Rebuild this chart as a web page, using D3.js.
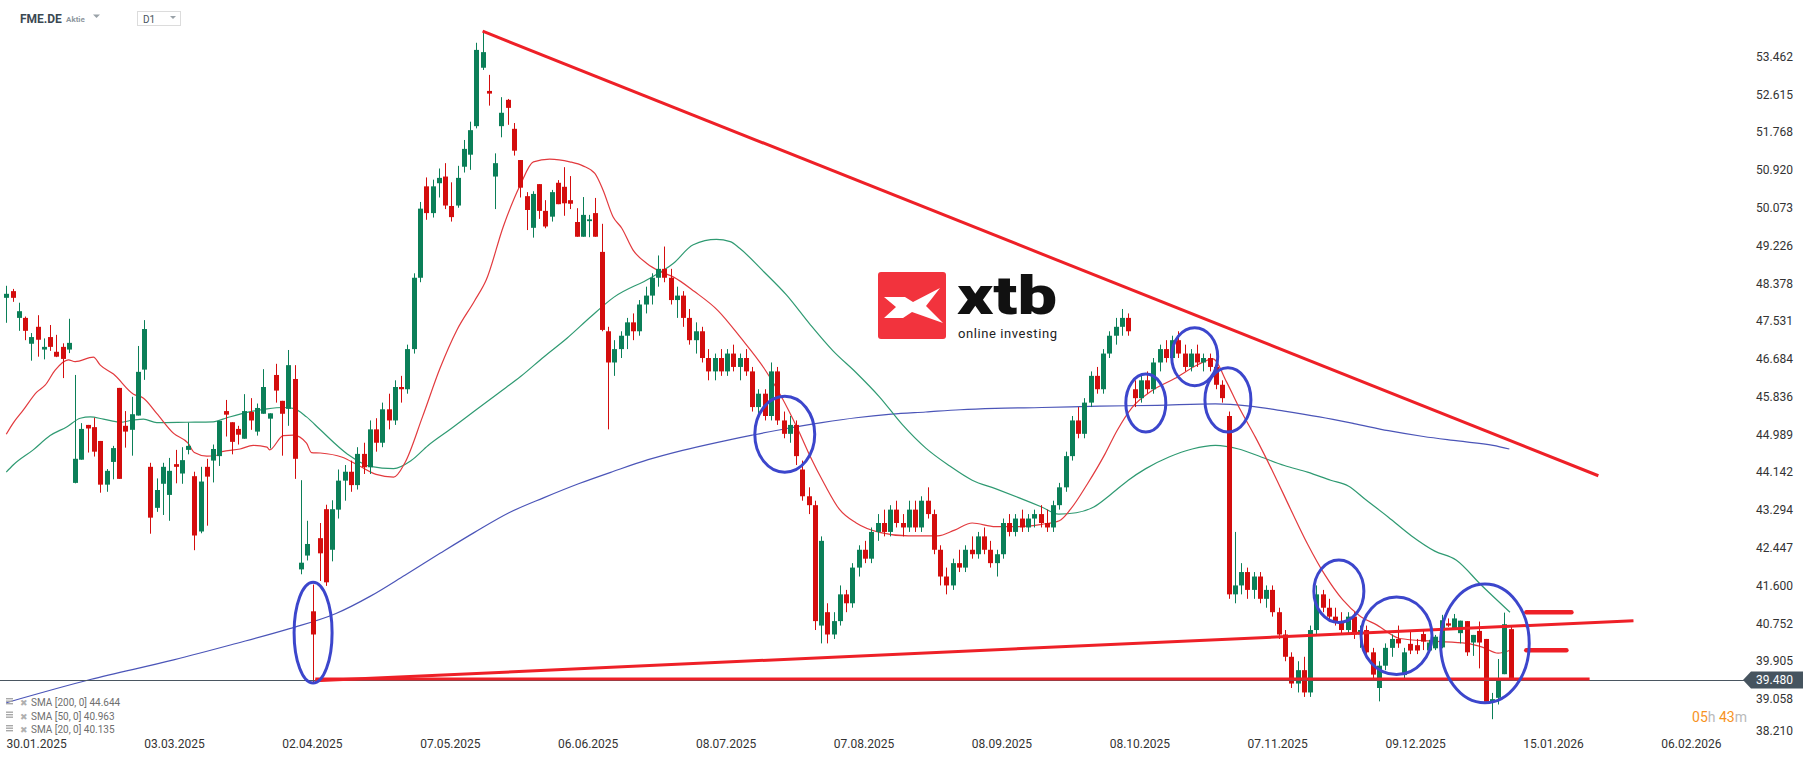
<!DOCTYPE html>
<html>
<meta charset="utf-8" />
<script src="https://cdn.jsdelivr.net/npm/d3@7"></script>
<style>
  html, body { margin: 0; background: #fff; font-family: Roboto, sans-serif; }
  .axis text { font-size: 12px; fill: #333; font-family: Roboto, sans-serif; }
  .legend text { font-size: 10px; fill: #6f6f6f; }
</style>
<body>
<svg id="chart" width="1815" height="761"></svg>
<script>
// bar index 0 = 30.01.2025, first candle is bar -5
const firstBar = -5;
// [open, high, low, close]
const candles = [
  [48.05,48.32,47.49,48.14],[48.20,48.25,47.96,48.05],[47.60,47.94,47.31,47.75],[47.60,47.63,47.10,47.31],[47.02,47.26,46.64,47.17],
  [47.40,47.66,46.73,47.11],[46.89,47.14,46.67,46.95],[47.17,47.44,46.86,46.95],[46.84,47.22,46.72,46.73],[46.95,47.03,46.25,46.68],
  [46.89,47.58,46.81,47.04],[43.90,46.32,43.89,44.44],[44.42,45.24,44.42,45.11],[45.20,45.20,44.58,45.12],[45.15,45.36,44.49,44.60],
  [44.84,44.84,43.68,43.86],[43.86,44.21,43.70,44.17],[44.37,44.73,43.98,44.68],[46.03,46.03,43.99,43.99],[45.18,45.51,44.69,45.05],
  [45.09,45.83,44.51,45.44],[45.41,46.97,45.41,46.39],[46.44,47.55,46.21,47.35],[44.26,44.35,42.76,43.12],[43.34,44.00,43.25,43.74],
  [43.88,44.35,43.18,44.26],[43.63,44.46,43.05,44.17],[44.32,44.64,43.89,44.26],[44.11,44.70,43.88,44.41],[44.64,45.25,44.54,44.73],
  [44.05,44.15,42.39,42.72],[42.81,44.26,42.77,43.93],[44.26,44.44,42.94,44.04],[44.40,44.76,43.91,44.66],[44.50,45.29,44.28,45.29],
  [45.51,45.76,44.94,45.43],[45.26,45.26,44.54,44.82],[45.11,45.18,44.76,44.98],[44.89,45.89,44.89,45.51],[45.49,45.80,45.09,45.30],
  [45.05,45.68,44.96,45.58],[45.45,46.45,45.45,46.05],[45.34,45.46,44.67,45.46],[46.32,46.57,45.70,45.97],[45.74,45.74,44.51,45.45],
  [45.56,46.88,45.18,46.54],[46.23,46.54,43.99,44.44],
  // bar 42
  [41.96,43.96,41.85,42.11],[42.27,43.05,42.16,42.53],[41.02,41.62,39.41,40.50],[42.66,43.00,41.70,42.32],[43.31,43.41,41.59,41.67],
  [42.40,43.51,42.14,43.31],[43.30,44.20,43.10,43.95],[43.95,44.30,43.50,44.15],[44.15,44.40,43.70,43.85],[43.85,44.70,43.75,44.55],
  [44.55,44.80,44.10,44.25],[44.25,45.30,44.10,45.10],[45.10,45.35,44.60,44.80],[44.80,45.70,44.70,45.55],[45.55,45.90,45.10,45.30],
  [45.30,46.20,45.20,46.05],[46.05,46.30,45.70,46.00],[46.00,47.00,45.90,46.90],[46.90,48.60,46.80,48.50],[48.50,50.20,48.40,50.05],
  [50.55,50.75,49.80,49.95],[49.95,50.70,49.85,50.55],[50.62,50.95,50.30,50.74],
  // bar 65
  [50.77,51.07,50.04,50.12],[50.11,50.64,49.76,49.86],[50.12,51.01,50.07,50.74],[50.99,51.59,50.86,51.39],[51.26,52.00,50.92,51.81],
  [51.90,53.77,51.85,53.61],[53.21,54.02,53.16,53.56],[52.69,53.05,52.36,52.63],[50.77,51.29,50.04,51.07],[51.90,52.55,51.65,52.20],
  [52.49,52.51,51.93,52.31],[51.84,51.97,51.24,51.35],[51.14,51.14,50.30,50.52],[50.33,50.42,49.57,50.02],[49.62,50.44,49.40,50.38],
  [50.60,50.60,49.82,50.00],[50.00,50.24,49.61,49.65],[49.87,50.47,49.76,50.42],[50.63,50.69,50.15,50.15],[50.54,50.98,49.89,50.17],
  [50.24,50.78,50.04,50.16],[49.75,50.06,49.42,49.42],[49.42,50.31,49.42,49.91],[49.77,49.91,49.41,49.81],[49.95,50.29,49.42,49.42],
  [49.08,49.71,47.30,47.33],
  // bar 91
  [47.30,47.40,45.10,46.60],[46.60,47.10,46.30,46.90],[46.90,47.30,46.70,47.20],[47.20,47.60,46.90,47.50],[47.50,47.70,47.10,47.30],
  [47.30,48.00,47.20,47.90],[47.90,48.30,47.70,48.10],[48.10,48.60,47.90,48.50],[48.50,49.00,48.30,48.70],[48.70,49.20,48.40,48.50],
  [48.50,48.70,47.90,48.00],[48.00,48.30,47.60,48.10],[48.10,48.20,47.40,47.60],[47.60,47.80,47.00,47.10],[47.10,47.50,46.80,47.30],
  [47.30,47.40,46.60,46.70],[46.70,46.90,46.20,46.40],[46.40,46.80,46.20,46.70],[46.70,46.90,46.30,46.40],[46.40,46.90,46.30,46.80],
  [46.80,47.00,46.40,46.50],[46.50,46.80,46.20,46.70],[46.70,46.90,46.30,46.40],[46.40,46.50,45.50,45.60],[45.60,46.00,45.40,45.90],
  [45.90,46.00,45.30,45.40],[45.40,46.60,45.30,46.40],[46.40,46.50,45.20,45.30],[45.30,45.50,44.90,45.00],[45.00,45.40,44.80,45.20],
  [45.20,45.30,44.30,44.50],[44.20,44.40,43.50,43.60],[43.60,43.80,43.20,43.40],[43.40,43.50,40.60,40.80],[40.70,42.70,40.30,42.60],
  [41.00,41.20,40.30,40.50],[40.50,41.00,40.40,40.80],[40.80,41.60,40.70,41.40],[41.40,41.50,41.00,41.20],[41.20,42.10,41.10,42.00],
  [42.00,42.50,41.80,42.40],[42.40,42.60,42.10,42.20],[42.20,42.90,42.10,42.80],[42.80,43.20,42.60,43.00],[43.00,43.30,42.70,42.80],
  [42.80,43.40,42.70,43.30],[43.30,43.50,42.90,43.00],[43.00,43.20,42.70,42.90],[42.90,43.50,42.80,43.30],[43.30,43.50,42.80,42.90],
  [42.90,43.60,42.80,43.50],[43.50,43.80,43.10,43.20],[43.20,43.30,42.30,42.40],[42.40,42.50,41.60,41.80],[41.80,42.00,41.40,41.60],
  [41.60,42.20,41.50,42.10],[42.10,42.40,41.90,42.00],[42.00,42.50,41.90,42.40],[42.40,42.70,42.20,42.30],[42.30,42.80,42.20,42.70],
  [42.70,42.90,42.30,42.40],[42.40,42.60,42.00,42.10],[42.10,42.40,41.80,42.30],[42.30,43.10,42.20,43.00],[43.00,43.20,42.70,42.80],
  [42.80,43.20,42.70,43.10],[43.10,43.30,42.80,42.90],[42.90,43.20,42.80,43.10],[43.10,43.30,42.90,43.20],[43.20,43.40,42.90,43.00],
  [43.00,43.30,42.80,42.90],[42.90,43.50,42.80,43.40],[43.40,43.90,43.30,43.80],[43.80,44.60,43.70,44.50],[44.50,45.40,44.40,45.30],
  [45.30,45.60,44.90,45.00],[45.00,45.80,44.90,45.70],[45.70,46.40,45.60,46.30],[46.30,46.50,45.90,46.00],[46.00,46.90,45.90,46.80],
  [46.80,47.30,46.70,47.20],[47.20,47.60,47.00,47.40],[47.40,47.80,47.20,47.60],[47.60,47.70,47.20,47.30],[46.00,46.20,45.60,45.80],
  [45.80,46.30,45.70,46.20],[46.20,46.40,45.90,46.00],[46.00,46.70,45.90,46.60],[46.60,47.00,46.40,46.90],[46.90,47.10,46.60,46.70],
  [46.70,47.20,46.60,47.10],[47.10,47.30,46.70,46.80],[46.80,47.00,46.40,46.50],[46.50,46.90,46.40,46.80],[46.80,47.00,46.50,46.60],
  [46.60,46.80,46.40,46.70],[46.70,46.80,46.40,46.50],[46.50,46.60,46.00,46.10],[46.10,46.20,45.70,45.80],[45.40,45.50,41.30,41.40],
  [41.40,42.80,41.20,41.60],[41.60,42.10,41.40,41.90],[41.90,42.00,41.30,41.50],[41.50,41.90,41.30,41.80],[41.80,41.90,41.20,41.30],
  [41.30,41.60,41.10,41.50],[41.50,41.60,40.90,41.00],[41.00,41.10,40.40,40.50],[40.50,40.60,39.90,40.00],[40.00,40.10,39.30,39.40],
  [39.40,39.90,39.20,39.70],[39.70,40.00,39.10,39.20],[39.20,40.70,39.10,40.60],[40.60,41.60,40.50,41.40],[41.40,41.50,41.00,41.10],
  [41.10,41.30,40.80,40.90],[40.90,41.10,40.70,40.80],[40.80,41.00,40.50,40.60],[40.60,41.00,40.50,40.90],[40.90,41.00,40.40,40.50],
  [40.50,40.70,40.20,40.60],[40.60,40.70,40.00,40.10],[40.10,40.20,39.50,39.60],[39.30,39.90,39.00,39.80],[39.80,40.30,39.70,40.20],
  [40.20,40.50,40.00,40.40],[40.40,40.70,40.20,40.30],
  // bar 218
  [39.59,40.20,39.52,40.10],[40.29,40.60,40.06,40.14],[40.26,40.40,40.06,40.14],[40.51,40.60,40.15,40.34],[40.14,40.38,40.11,40.32],
  [40.19,40.49,40.15,40.45],[40.21,40.94,40.19,40.82],[40.75,40.86,40.67,40.70],[40.64,40.96,40.60,40.86],[40.53,40.81,40.30,40.81],
  [40.80,40.80,40.02,40.10],[40.32,40.49,40.02,40.49],[40.58,40.79,39.74,40.32],[40.40,40.40,38.99,38.99],[38.99,39.19,38.60,39.05],
  [39.08,39.95,38.93,39.48],[39.61,40.99,39.61,40.73],[40.62,40.67,39.48,39.48]
];

// moving averages: [bar, value]
const sma20 = [[-5,44.99],[-3.9,45.24],[-2.3,45.53],[-0.1,45.94],[1.2,46.09],[2.8,46.43],[4.9,46.66],[6,46.62],[8.9,46.72],[10,46.54],[12.1,46.34],[15.3,45.89],[16.9,45.80],[19,45.46],[21.7,45.01],[24,44.79],[25,44.58],[27,44.50],[28.6,44.52],[29.4,44.60],[32.3,44.66],[34.4,44.74],[36.6,44.70],[37,44.64],[39.2,44.96],[40.8,44.97],[42.9,44.79],[43.7,44.58],[45.1,44.57],[48.5,44.48],[51.2,44.29],[54,44.09],[56.8,44.03],[58.6,44.35],[61.4,45.38],[64.2,46.47],[66.9,47.33],[69.7,47.98],[71.6,48.46],[74.3,49.65],[77,50.58],[79.1,51.10],[81.7,51.16],[84.9,51.10],[87,51.01],[88.9,50.84],[90.2,50.47],[91.8,49.87],[93.2,49.61],[95,49.12],[97.2,48.82],[99.3,48.64],[101.4,48.52],[104.8,48.19],[108.5,47.77],[112.2,47.15],[115.9,46.47],[118.6,45.85],[121.4,45.07],[123.3,44.48],[125.5,43.88],[127.9,43.31],[130.6,43.00],[134.3,42.79],[138.9,42.71],[143.6,42.71],[146.3,42.84],[149.1,43.00],[152.8,42.92],[156.5,42.92],[160.2,42.97],[163,43.05],[164.8,43.31],[167.5,43.88],[170.3,44.55],[172.2,45.07],[174.6,45.59],[177.7,45.96],[181.4,46.24],[185.1,46.55],[187.5,46.68],[189.7,46.16],[191.5,45.64],[194.3,44.92],[197.1,44.14],[199.9,43.31],[202.6,42.53],[205.4,41.83],[208.2,41.28],[210.9,40.92],[213.7,40.71],[217.3,40.41],[222.6,40.35],[228,40.30],[230.6,40.21],[233,40.08],[234.8,40.14]];
const sma50 = [[-5,44.14],[-3.9,44.30],[-0.7,44.64],[2,44.96],[4.7,45.16],[6.8,45.35],[8.4,45.38],[10.5,45.33],[13.2,45.26],[15.3,45.31],[16.9,45.33],[19,45.25],[23.8,45.26],[28,45.27],[30.2,45.36],[33.4,45.48],[36.6,45.56],[39.2,45.59],[40.8,45.57],[42.9,45.38],[45.1,45.09],[49.4,44.55],[53.1,44.27],[56.8,44.22],[59.6,44.40],[62.3,44.74],[66,45.12],[69.7,45.51],[73.4,45.90],[77.1,46.29],[80.8,46.73],[84.5,47.15],[88.2,47.62],[91.9,48.06],[97.7,48.49],[101.4,48.82],[104.6,49.24],[108.3,49.36],[110.5,49.31],[112,49.16],[115.9,48.63],[119.5,48.11],[123.2,47.46],[126.9,46.86],[130.6,46.37],[134.3,45.83],[138,45.20],[141.7,44.68],[145.4,44.29],[149.1,43.96],[152.8,43.77],[156.5,43.57],[160.2,43.36],[162.9,43.20],[165.7,43.23],[168.5,43.36],[171.2,43.64],[174,43.96],[176.8,44.22],[180.5,44.48],[184.2,44.66],[187.9,44.74],[191.6,44.66],[195.2,44.48],[198.9,44.29],[202.6,44.14],[206.3,43.96],[209.1,43.83],[211.9,43.52],[215.5,43.13],[219.2,42.71],[222.9,42.37],[226.3,42.17],[230.3,41.61],[234.9,41.00]];
const sma200 = [[-5,38.97],[8.4,39.49],[21.7,39.93],[30.9,40.27],[40.2,40.63],[47.6,40.97],[53.1,41.36],[58.6,41.83],[64.2,42.32],[69.7,42.79],[75.2,43.23],[80.8,43.57],[86.3,43.88],[91.9,44.16],[97.4,44.42],[102.9,44.63],[108.5,44.81],[114,44.97],[119.5,45.12],[125.1,45.25],[130.6,45.36],[136.2,45.44],[141.7,45.49],[147.2,45.54],[152.8,45.57],[160.2,45.59],[169.4,45.62],[178.6,45.64],[187.9,45.67],[193.4,45.62],[198.9,45.51],[204.5,45.38],[210,45.23],[215.5,45.07],[221.1,44.94],[226.6,44.84],[232.2,44.74],[234.8,44.66]];

const dateLabels = ['30.01.2025','03.03.2025','02.04.2025','07.05.2025','06.06.2025','08.07.2025','07.08.2025','08.09.2025','08.10.2025','07.11.2025','09.12.2025','15.01.2026','06.02.2026'];
const dateBars = [0,22,44,66,88,110,132,154,176,198,220,242,264];
const priceTicks = [53.462,52.615,51.768,50.920,50.073,49.226,48.378,47.531,46.684,45.836,44.989,44.142,43.294,42.447,41.600,40.752,39.905,39.058,38.210];
const lastPrice = 39.480;
const legendItems = ['SMA [200, 0] 44.644','SMA [50, 0] 40.963','SMA [20, 0] 40.135'];

// drawn annotations: [bar1, price1, bar2, price2]
const trendLines = [[71.0,54.03,249.0,44.06],[44.3,39.46,254.6,40.81],[44.3,39.50,247.6,39.50]];
const markLines = [[237.5,41.00,244.7,41.00],[237.5,40.145,243.9,40.145]];
// ellipses: [bar, price, bar radius, price radius]
const circles = [[43.95,40.54,3.03,1.13],[119.2,44.99,4.78,0.85],[176.8,45.69,3.19,0.65],[184.6,46.73,3.67,0.65],[189.9,45.76,3.67,0.72],[207.6,41.47,3.99,0.70],[216.8,40.47,5.66,0.87],[230.9,40.30,7.07,1.33]];

const svg = d3.select('#chart');
const x = d3.scaleLinear().domain([-6, 270]).range([0, 1730]);
const y = d3.scaleLinear().domain([38.21, 53.462]).range([736.6, 56.5]);

const up = '#0b7f58', down = '#d40d0d', red = '#ee2027', blue = '#3c46cc';

// header
const head = svg.append('g');
head.append('text').attr('x', 20).attr('y', 23).text('FME.DE')
  .style('font-size', '12px').style('font-weight', 'bold').style('fill', '#3b4852');
head.append('text').attr('x', 66).attr('y', 22).text('Aktie')
  .style('font-size', '8px').style('font-weight', 'bold').style('fill', '#8f989f');
head.append('path').attr('d', 'M93,14.5 L100,14.5 L96.5,18 Z').attr('fill', '#9aa2a8');
head.append('rect').attr('x', 137.5).attr('y', 11.5).attr('width', 43).attr('height', 14)
  .attr('fill', '#fff').attr('stroke', '#dcdcdc');
head.append('text').attr('x', 143).attr('y', 22.5).text('D1')
  .style('font-size', '10px').style('fill', '#4a555e');
head.append('path').attr('d', 'M170,16 L176,16 L173,19 Z').attr('fill', '#9aa2a8');

// xtb logo
const logo = svg.append('g');
logo.append('rect').attr('x', 878).attr('y', 272).attr('width', 68).attr('height', 67).attr('rx', 3).attr('fill', '#f2333d');
logo.append('path').attr('d', 'M884,297 L905,297 L913,302 L940,288 L926,306 L943,323 L912,312 L903,318 L884,318 L896,307 Z').attr('fill', '#fff');
logo.append('text').attr('x', 957).attr('y', 313.5).text('xtb').attr('textLength', 100).attr('lengthAdjust', 'spacingAndGlyphs')
  .style('font-size', '54px').style('font-weight', '900').style('fill', '#111').style('font-family', 'Roboto, sans-serif');
logo.append('text').attr('x', 958).attr('y', 338).text('online investing').attr('textLength', 99)
  .style('font-size', '13px').style('fill', '#222');

// moving averages
const line = d3.line().x(d => x(d[0])).y(d => y(d[1])).curve(d3.curveMonotoneX);
svg.append('path').datum(sma200).attr('d', line).attr('fill', 'none').attr('stroke', '#4b55b8').attr('stroke-width', 1.2);
svg.append('path').datum(sma50).attr('d', line).attr('fill', 'none').attr('stroke', '#2f9a72').attr('stroke-width', 1.2);
svg.append('path').datum(sma20).attr('d', line).attr('fill', 'none').attr('stroke', '#e23a3e').attr('stroke-width', 1.2);

// candles
const bars = svg.append('g').selectAll('g').data(candles).enter().append('g');
bars.append('line')
  .attr('x1', (d, i) => Math.round(x(i + firstBar)) + 0.5).attr('x2', (d, i) => Math.round(x(i + firstBar)) + 0.5)
  .attr('y1', d => y(d[1])).attr('y2', d => y(d[2]))
  .attr('stroke', d => d[3] >= d[0] ? up : down).attr('stroke-width', 1);
bars.append('rect')
  .attr('x', (d, i) => Math.round(x(i + firstBar)) - 2)
  .attr('y', d => y(Math.max(d[0], d[3])))
  .attr('width', 5)
  .attr('height', d => Math.max(1, Math.abs(y(d[0]) - y(d[3]))))
  .attr('fill', d => d[3] >= d[0] ? up : down);

// last price line
svg.append('line').attr('x1', 0).attr('x2', 1744).attr('y1', Math.round(y(lastPrice)) + 0.5).attr('y2', Math.round(y(lastPrice)) + 0.5)
  .attr('stroke', '#4a5661').attr('stroke-width', 1);

// drawn lines
svg.append('g').selectAll('line').data(trendLines).enter().append('line')
  .attr('x1', d => x(d[0])).attr('y1', d => y(d[1])).attr('x2', d => x(d[2])).attr('y2', d => y(d[3]))
  .attr('stroke', red).attr('stroke-width', 3);
svg.append('g').selectAll('line').data(markLines).enter().append('line')
  .attr('x1', d => x(d[0])).attr('y1', d => y(d[1])).attr('x2', d => x(d[2])).attr('y2', d => y(d[3]))
  .attr('stroke', red).attr('stroke-width', 4.5).attr('stroke-linecap', 'round');
svg.append('g').selectAll('ellipse').data(circles).enter().append('ellipse')
  .attr('cx', d => x(d[0])).attr('cy', d => y(d[1]))
  .attr('rx', d => x(d[0] + d[2]) - x(d[0])).attr('ry', d => y(d[1] - d[3]) - y(d[1]))
  .attr('fill', 'none').attr('stroke', blue).attr('stroke-width', 3);

// price axis
const yAxis = svg.append('g').attr('class', 'axis').attr('transform', 'translate(1750,0)')
  .call(d3.axisRight(y).tickValues(priceTicks).tickSize(0).tickPadding(6).tickFormat(d3.format('.3f')));
yAxis.select('.domain').remove();
yAxis.selectAll('.tick').filter(d => y(d) > 731).attr('transform', 'translate(0,731)');

// last price tag
const ly = y(lastPrice);
svg.append('path').attr('d', `M1743,${ly} L1751,${ly - 8.5} L1803,${ly - 8.5} L1803,${ly + 8.5} L1751,${ly + 8.5} Z`).attr('fill', '#46545f');
svg.append('text').attr('x', 1756).attr('y', ly + 4.3).text(d3.format('.3f')(lastPrice))
  .style('font-size', '12px').style('fill', '#fff');

// date axis
const xAxis = svg.append('g').attr('class', 'axis').attr('transform', 'translate(0,737)')
  .call(d3.axisBottom(x).tickValues(dateBars).tickSize(0).tickPadding(2).tickFormat((d, i) => dateLabels[i]));
xAxis.select('.domain').remove();
xAxis.selectAll('text').attr('x', -1.5);

// countdown
const cd = svg.append('text').attr('x', 1747).attr('y', 722).attr('text-anchor', 'end').style('font-size', '14px');
cd.append('tspan').text('05').style('fill', '#f7931e');
cd.append('tspan').text('h ').style('fill', '#b9b9b9');
cd.append('tspan').text('43').style('fill', '#f7931e');
cd.append('tspan').text('m').style('fill', '#b9b9b9');

// legend
const lg = svg.append('g').attr('class', 'legend');
legendItems.forEach((t, k) => {
  const ty = 706 + k * 13.5;
  const g = lg.append('g');
  [0, 2.5, 5].forEach(o => g.append('rect').attr('x', 6).attr('y', ty - 8 + o).attr('width', 7).attr('height', 1.4).attr('fill', '#a8a8a8'));
  g.append('text').attr('x', 20).attr('y', ty).text('\u2716').style('font-size', '9px').style('fill', '#b0b0b0').style('font-family', 'DejaVu Sans');
  g.append('text').attr('x', 31).attr('y', ty).text(t);
});
</script>
</body>
</html>
